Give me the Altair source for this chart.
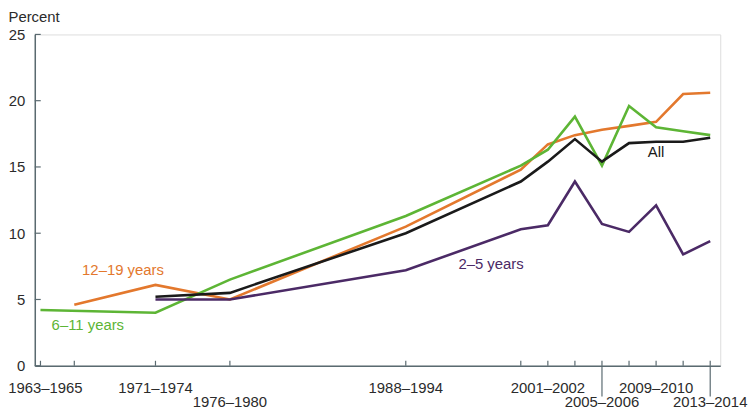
import altair as alt
import pandas as pd

periods = ["1963–1965", "1966–1970", "1971–1974", "1976–1980", "1988–1994",
           "1999–2000", "2001–2002", "2003–2004", "2005–2006", "2007–2008",
           "2009–2010", "2011–2012", "2013–2014"]
period_year = [1964.5, 1967, 1973, 1978.5, 1991.5, 2000, 2002, 2004, 2006,
               2008, 2010, 2012, 2014]

age_2_5 = [None, None, 5.0, 5.0, 7.2, 10.3, 10.6, 13.9, 10.7, 10.1, 12.1, 8.4, 9.4]
age_6_11 = [4.2, None, 4.0, 6.5, 11.3, 15.1, 16.3, 18.8, 15.1, 19.6, 18.0, 17.7, 17.4]
age_12_19 = [None, 4.6, 6.1, 5.0, 10.5, 14.8, 16.7, 17.4, 17.8, 18.1, 18.4, 20.5, 20.6]
all_ages = [None, None, 5.2, 5.5, 10.0, 13.9, 15.4, 17.1, 15.4, 16.8, 16.9, 16.9, 17.2]

series_names = ["12–19 years", "6–11 years", "2–5 years", "All"]
series_colors = ["#E3782D", "#5DB535", "#4B2A66", "#1A1A1A"]

# x-axis labels: which periods are labelled and in which row
label_periods = ["1963–1965", "1971–1974", "1976–1980", "1988–1994",
                 "2001–2002", "2005–2006", "2009–2010", "2013–2014"]
label_rows = [1, 1, 2, 1, 1, 2, 1, 2]
leader_periods = ["2005–2006", "2013–2014"]

# series annotations
ann_text = ["12–19 years", "6–11 years", "2–5 years", "All"]
ann_year = [1970.6, 1968.0, 1997.8, 2010.0]
ann_value = [7.25, 3.05, 7.7, 16.1]

y_ticks = [0, 5, 10, 15, 20, 25]

W, H = 691, 334
FONT = "Liberation Sans"
AXIS_COLOR = "#5A6A70"
TEXT_COLOR = "#2B2B2B"

year_of = dict(zip(periods, period_year))

rows = []
for name, vals in zip(series_names, [age_12_19, age_6_11, age_2_5, all_ages]):
    for p, yr, v in zip(periods, period_year, vals):
        if v is not None:
            rows.append({"series": name, "period": p, "year": yr, "value": v})
df = pd.DataFrame(rows)

periods_df = pd.DataFrame({"period": periods, "year": period_year})
labels_df = pd.DataFrame({"label": label_periods,
                          "year": [year_of[p] for p in label_periods],
                          "row": label_rows,
                          "first": [i == 0 for i in range(len(label_periods))]})
leaders_df = pd.DataFrame({"year": [year_of[p] for p in leader_periods]})
ann_df = pd.DataFrame({"text": ann_text, "year": ann_year, "value": ann_value,
                       "series": series_names})
yt_df = pd.DataFrame({"v": y_ticks})

xscale = alt.Scale(domain=[1964.08, 2014.74], nice=False, zero=False)
yscale = alt.Scale(domain=[0, 25], nice=False)
cscale = alt.Scale(domain=series_names, range=series_colors)

lines = alt.Chart(df).mark_line(strokeWidth=2.6, strokeJoin="miter").encode(
    x=alt.X("year:Q", scale=xscale,
            axis=alt.Axis(title=None, labels=False, ticks=False, grid=False,
                          domainColor=AXIS_COLOR, domainWidth=1.5)),
    y=alt.Y("value:Q", scale=yscale,
            axis=alt.Axis(title="Percent", values=y_ticks, ticks=False, grid=False,
                          domainColor=AXIS_COLOR, domainWidth=1.5,
                          labelFontSize=15, labelFont=FONT, labelColor=TEXT_COLOR,
                          labelPadding=10,
                          titleAngle=0, titleAlign="left", titleBaseline="alphabetic",
                          titleX=-27, titleY=-13, titleFontSize=15,
                          titleFont=FONT, titleFontWeight="normal",
                          titleColor=TEXT_COLOR)),
    color=alt.Color("series:N", scale=cscale, legend=None),
    order=alt.Order("year:Q"),
    detail="series:N",
)

xticks = alt.Chart(periods_df).mark_rule(color=AXIS_COLOR, strokeWidth=1.2).encode(
    x=alt.X("year:Q", scale=xscale),
    y=alt.value(H), y2=alt.value(H - 5),
)

yticks = alt.Chart(yt_df).mark_rule(color=AXIS_COLOR, strokeWidth=1.2).encode(
    y=alt.Y("v:Q", scale=yscale),
    x=alt.value(0), x2=alt.value(6),
)

leaders = alt.Chart(leaders_df).mark_rule(color=AXIS_COLOR, strokeWidth=1.2).encode(
    x=alt.X("year:Q", scale=xscale),
    y=alt.value(H), y2=alt.value(H + 31),
)

text_style = dict(fontSize=15, font=FONT, color=TEXT_COLOR, baseline="alphabetic")

first_lbl = alt.Chart(labels_df).transform_filter("datum.first").mark_text(
    align="center", dx=5, **text_style
).encode(x=alt.X("year:Q", scale=xscale), y=alt.value(H + 27), text="label:N")

row1 = alt.Chart(labels_df).transform_filter("datum.row == 1 && !datum.first").mark_text(
    align="center", **text_style
).encode(x=alt.X("year:Q", scale=xscale), y=alt.value(H + 27), text="label:N")

row2 = alt.Chart(labels_df).transform_filter("datum.row == 2").mark_text(
    align="center", **text_style
).encode(x=alt.X("year:Q", scale=xscale), y=alt.value(H + 42), text="label:N")

ann = alt.Chart(ann_df).mark_text(
    fontSize=15, font=FONT, baseline="middle", align="center"
).encode(
    x=alt.X("year:Q", scale=xscale),
    y=alt.Y("value:Q", scale=yscale),
    text="text:N",
    color=alt.Color("series:N", scale=cscale, legend=None),
)

chart = alt.layer(lines, xticks, yticks, leaders, first_lbl, row1, row2, ann).properties(
    width=W, height=H,
    autosize=alt.AutoSizeParams(type="none"),
    padding={"left": 27, "top": 25, "right": 28, "bottom": 46},
).configure_view(stroke=None).configure(background="white")

chart.save("out.html", embed_options={"renderer": "svg", "actions": False})
